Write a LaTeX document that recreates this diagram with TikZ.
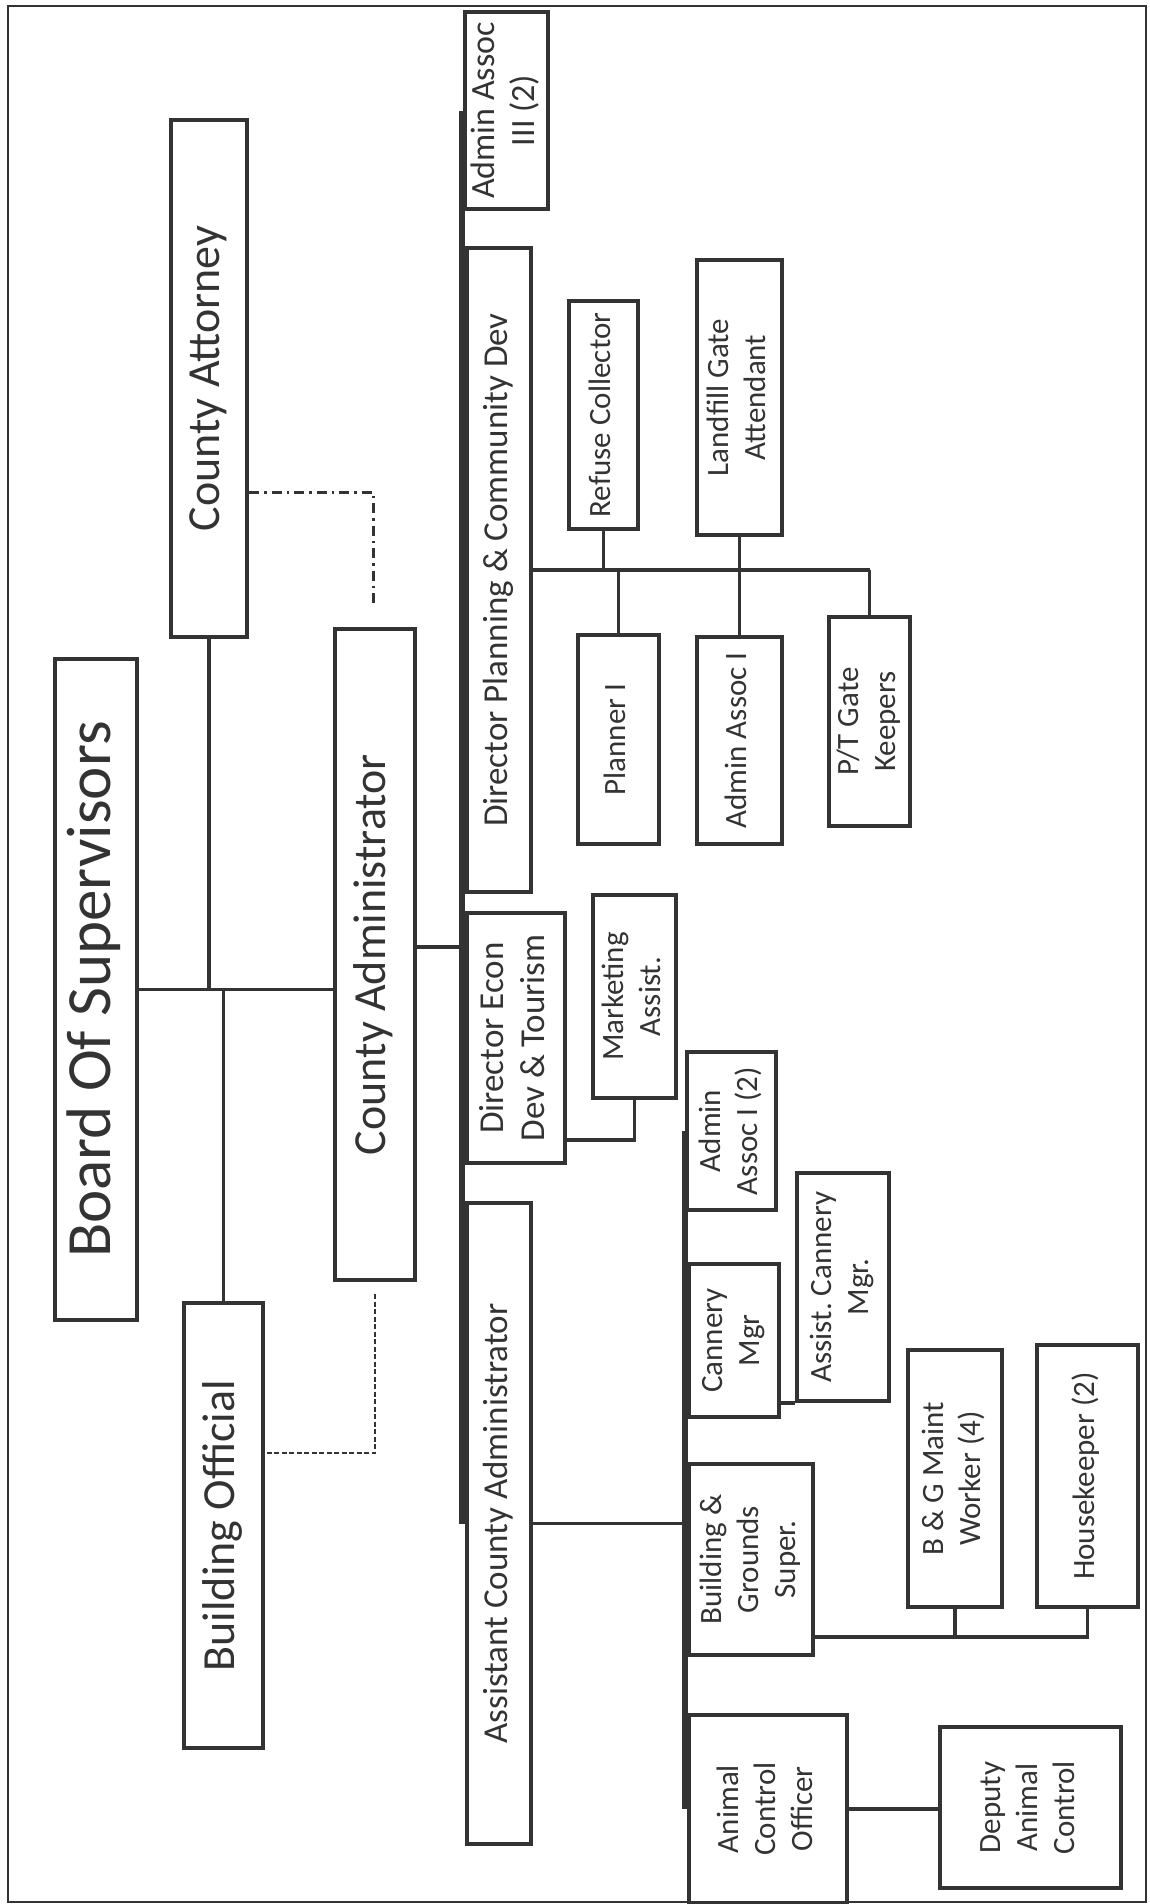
\documentclass[tikz,border=0pt]{standalone}
\usepackage{fontspec}
\setmainfont{Carlito}
\usepackage{graphicx}
\usetikzlibrary{positioning}
\frenchspacing
\definecolor{ink}{HTML}{333333}
\newcommand{\vlabel}[1]{\rotatebox{90}{\begin{tabular}{@{}c@{}}#1\end{tabular}}}
\tikzset{
  post/.style={draw=ink, text=ink, line width=4pt, inner sep=0pt, font=\fontsize{31}{37}\selectfont},
  toptier/.style={font=\fontsize{46}{54}\selectfont},
  midtier/.style={font=\fontsize{35}{41}\selectfont},
  link/.style={draw=ink, line width=3.5pt},
  spine/.style={draw=ink, line width=6.5pt},
  dashlink/.style={draw=ink, line width=2.5pt, dash pattern=on 5pt off 2.5pt},
  dotlink/.style={draw=ink, line width=3pt, dash pattern=on 10pt off 5pt on 2.5pt off 5pt},
}
\begin{document}
\begin{tikzpicture}[x=1pt,y=-1pt]
\useasboundingbox (0,0) rectangle (1149,1904);
\draw[ink, line width=2.5pt] (8,6) rectangle (1146,1902);

\node[post, line width=3.5pt, minimum width=82pt, minimum height=661pt, font=\fontsize{63}{70}\selectfont] (board) at (96,989.5) {\vlabel{Board Of Supervisors}};
\node[post, toptier, minimum width=76pt, minimum height=517pt] (atty) at (209,378.5) {\vlabel{County Attorney}};
\node[post, toptier, minimum width=79pt, minimum height=445pt] (bldg) at (223.5,1525.5) {\vlabel{Building Official}};
\node[post, toptier, minimum width=80pt, minimum height=651pt] (cadmin) at (375,954.5) {\vlabel{County Administrator}};

\node[post, font=\fontsize{34}{40}\selectfont, minimum width=83pt, minimum height=197pt] (aa3) at (506.5,110.5) {\vlabel{Admin Assoc\\III (2)}};
\node[post, midtier, minimum width=64pt, minimum height=644pt] (dplan) at (499,570) {\vlabel{Director Planning \& Community Dev}};
\node[post, midtier, minimum width=98pt, minimum height=250pt] (decon) at (516,1038) {\vlabel{Director Econ\\Dev \& Tourism}};
\node[post, midtier, minimum width=64pt, minimum height=641pt] (acadmin) at (499,1523.5) {\vlabel{Assistant County Administrator}};

\node[post, minimum width=69pt, minimum height=228pt] (refuse) at (603.5,415) {\vlabel{Refuse Collector}};
\node[post, minimum width=85pt, minimum height=275pt] (landfill) at (739.5,397.5) {\vlabel{Landfill Gate\\Attendant}};
\node[post, minimum width=81pt, minimum height=209pt] (planner) at (618.5,739.5) {\vlabel{Planner I}};
\node[post, minimum width=85pt, minimum height=207pt] (aa1) at (739.5,740.5) {\vlabel{Admin Assoc I}};
\node[post, minimum width=81pt, minimum height=209pt] (ptgate) at (869.5,721.5) {\vlabel{P/T Gate\\Keepers}};

\node[post, minimum width=83pt, minimum height=203pt] (mkt) at (634.5,996.5) {\vlabel{Marketing\\Assist.}};

\node[post, minimum width=89pt, minimum height=158pt] (aa1two) at (731.5,1131) {\vlabel{Admin\\Assoc I (2)}};
\node[post, minimum width=90pt, minimum height=153pt] (cannery) at (734,1340.5) {\vlabel{Cannery\\Mgr}};
\node[post, minimum width=92pt, minimum height=228pt] (acannery) at (843,1287) {\vlabel{Assist. Cannery\\Mgr.}};
\node[post, minimum width=124pt, minimum height=191pt] (bgsuper) at (751,1559.5) {\vlabel{Building \&\\Grounds\\Super.}};
\node[post, minimum width=94pt, minimum height=257pt] (bgmaint) at (955,1478.5) {\vlabel{B \& G Maint\\Worker (4)}};
\node[post, minimum width=101pt, minimum height=262pt] (house) at (1087.5,1476) {\vlabel{Housekeeper (2)}};
\node[post, minimum width=158pt, minimum height=188pt] (aco) at (768,1809) {\vlabel{Animal\\Control\\Officer}};
\node[post, minimum width=181pt, minimum height=161pt] (deputy) at (1030.5,1807.5) {\vlabel{Deputy\\Animal\\Control}};

\draw[link] (board.east) -- (board.east -| cadmin.west);
\draw[link] (atty.south) -- (atty.south |- board.east);
\draw[link] (bldg.north) -- (bldg.north |- board.east);
\draw[link] ([yshift=7.5pt]cadmin.east) -- ([yshift=7.5pt]cadmin.east -| aa3.west);
\draw[spine] ([xshift=-1pt]aa3.west) -- ([xshift=-1pt]aa3.west |- acadmin.west);

\draw[link] (dplan.east) -- (dplan.east -| ptgate.north);
\draw[link] (refuse.south) -- (refuse.south |- dplan.east);
\draw[link] (planner.north) -- (planner.north |- dplan.east);
\draw[link] (landfill.south) -- (aa1.north);
\draw[link] (ptgate.north) -- (ptgate.north |- dplan.east);

\draw[link] ([yshift=25pt]decon.south east) -| (mkt.south);

\draw[link] (acadmin.east) -- (acadmin.east -| aa1two.west);
\draw[spine] (aa1two.west) -- (aa1two.west |- aco.west);
\draw[link] (acannery.south west) -- (acannery.south west -| cannery.east);
\coordinate (bgbus) at ([yshift=20pt]bgsuper.south east);
\draw[link] (bgbus) -| (house.south);
\draw[link] (bgmaint.south) -- (bgmaint.south |- bgbus);
\draw[link] (aco.east) -- (aco.east -| deputy.west);

\draw[dotlink] ([yshift=-113.5pt]atty.east) -| ([xshift=-2pt,yshift=23pt]cadmin.north);
\draw[dashlink] ([yshift=-12pt]cadmin.south) |- ([yshift=72.5pt]bldg.east);
\end{tikzpicture}
\end{document}
